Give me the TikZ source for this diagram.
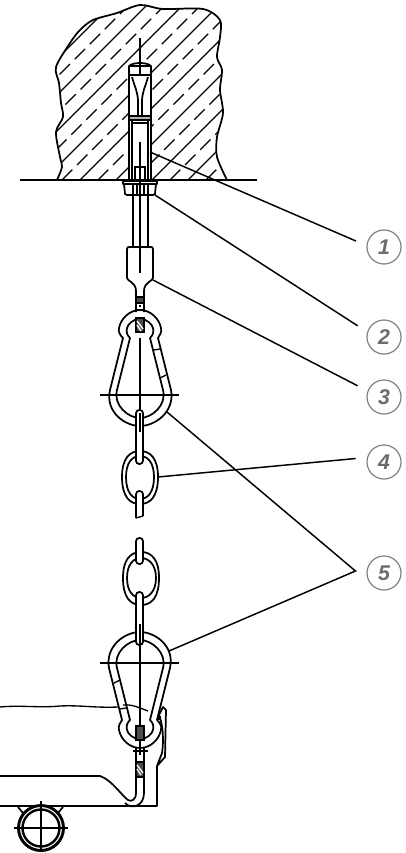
\documentclass[tikz,border=0pt]{standalone}
\usepackage{fontspec}
\setmainfont{Liberation Sans}
\definecolor{calloutgray}{gray}{0.5}
\tikzset{
  part/.style={line width=1.3pt, line join=round},
  heavy/.style={line width=2pt},
  thinpart/.style={line width=1pt},
  leader/.style={line width=1.1pt},
  hatchline/.style={line width=0.9pt},
  hatchdash/.style={line width=0.9pt, dash pattern=on 11pt off 5pt},
  linkpart/.style={line width=1.3pt, fill=white, rounded corners=2.4pt},
  block/.style={line width=1pt, fill=black!70},
  callout/.style={circle, draw=calloutgray, line width=0.9pt, minimum size=25.5pt, inner sep=0pt,
    outer sep=8.7pt, text=calloutgray!85!black, font=\fontsize{16}{16}\selectfont\bfseries\itshape}
}
\newcommand{\carabinerbody}{
\draw[part] (123,338) -- (110,390) .. controls (105,412) and (125,426) .. (140,426)
  .. controls (155,426) and (175,412) .. (171,390) -- (158,338)
  .. controls (160,335) and (162,332) .. (161,328) .. controls (159,318) and (150,310) .. (140,310)
  .. controls (130,310) and (121,318) .. (119,328) .. controls (118,332) and (120,335) .. (123,338) -- cycle;
\draw[part] (130,338) -- (117,390) .. controls (113,405) and (128,418) .. (140,418)
  .. controls (152,418) and (167,405) .. (163,390) -- (150,338)
  .. controls (153,335) and (154,332) .. (153,328) .. controls (152,324) and (147,319) .. (140,319)
  .. controls (133,319) and (128,324) .. (127,328) .. controls (126,332) and (127,335) .. (130,338) -- cycle;
\draw[thinpart] (154,350) -- (160,349) (160,378) -- (166,375);
}
\begin{document}
\begin{tikzpicture}[x=0.75pt, y=-0.75pt]
\useasboundingbox (0,0) rectangle (406,853);
% wall
\begin{scope}
\clip plot[smooth] coordinates {(57,180) (62,167) (60,157) (56,132) (63,117) (61,103) (59,83) (56,67) (70,43) (80,30) (93,20) (117,13) (140,5) (163,9) (203,9) (220,20) (220,37) (217,57) (222,70) (220,90) (223,113) (217,137) (217,157) (227,180)} -- cycle;
\foreach \k in {116,152,188,224,260,296,332,368}
  \draw[hatchline] ({\k-180},180) -- (\k,0);
\foreach \k in {98,134,170,206,242,278,314,350,386}
  \draw[hatchdash] ({\k-180},180) -- (\k,0);
\end{scope}
\draw[part] plot[smooth] coordinates {(57,180) (62,167) (60,157) (56,132) (63,117) (61,103) (59,83) (56,67) (70,43) (80,30) (93,20) (117,13) (140,5) (163,9) (203,9) (220,20) (220,37) (217,57) (222,70) (220,90) (223,113) (217,137) (217,157) (227,180)};
% anchor in the wall
\fill[white] (129,60) rectangle (151,180);
\draw[part] (129,180) -- (129,66) .. controls (133,62) and (147,62) .. (151,66) -- (151,180);
\draw[part] (129,66) -- (151,66);
\draw[heavy] (129,75) -- (151,75);
\draw[thinpart] (140,38) -- (140,76);
\draw[part] (132,77) .. controls (135,88) and (138,92) .. (138,102);
\draw[part] (148,77) .. controls (145,88) and (142,92) .. (142,102);
\draw[heavy] (138,100) -- (138,116) (142,100) -- (142,116);
\draw[part,fill=black!30] (129,116) rectangle (151,120);
\draw[part] (132,120) -- (132,180) (148,120) -- (148,180) (132,123) -- (148,123);
\draw[part] (134,167) -- (146,167) (135,167) -- (135,180) (145,167) -- (145,180);
\draw[thinpart] (140,142) -- (140,180);
\draw[part] (20,180) -- (257,180);
% nut and rod
\draw[part] (123,181) -- (157,181) -- (157,184) -- (123,184) -- cycle;
\draw[part] (124,184) -- (125,194) -- (127,195) -- (153,195) -- (155,194) -- (156,184);
\draw[thinpart] (137,184) -- (137,195) (144,184) -- (144,195);
\draw[heavy] (133,184) -- (133,247) (148,184) -- (148,247);
\draw[part] (136,312) -- (136,291) .. controls (136,282) and (127,281) .. (127,278) -- (127,249) .. controls (127,247.5) and (128,247) .. (129,247) -- (151,247) .. controls (152,247) and (153,247.5) .. (153,249) -- (153,278) .. controls (153,281) and (144,282) .. (144,291) -- (144,312);
\draw[part] (140,170) -- (140,273);
% upper carabiner
\carabinerbody
\draw[block] (136,297) rectangle (144,303);
\draw[part] (136,310) -- (144,310);
\fill (139.2,305) rectangle (140.8,307);
\draw[block] (136,318) rectangle (144,332);
\draw[white,thinpart] (137,321) -- (143,329) (137,325) -- (141,331);
\draw[thinpart] (100,395) -- (179,395);
\draw[thinpart] (140,338) -- (140,410);
% chain, upper part
\draw[part] (122,477) .. controls (122,458) and (130,451) .. (140,451) .. controls (150,451) and (158,458) .. (158,477) .. controls (158,497) and (150,504) .. (140,504) .. controls (130,504) and (122,497) .. (122,477) -- cycle;
\draw[part] (126,477) .. controls (126,463) and (132,456) .. (140,456) .. controls (148,456) and (154,463) .. (154,477) .. controls (154,492) and (148,499) .. (140,499) .. controls (132,499) and (126,492) .. (126,477) -- cycle;
\draw[linkpart] (136,464) -- (136,410) -- (143,410) -- (143,464) -- cycle;
\draw[thinpart] (140,413) -- (140,432);
\draw[linkpart] (136,518) -- (136,491) -- (143,491) -- (143,516);
\draw[thinpart] (136,518) -- (143,516);
% chain, lower part
\draw[part] (123,578) .. controls (123,560) and (130,552) .. (141,552) .. controls (152,552) and (159,560) .. (159,578) .. controls (159,597) and (152,605) .. (141,605) .. controls (130,605) and (123,597) .. (123,578) -- cycle;
\draw[part] (127,578) .. controls (127,565) and (133,558) .. (141,558) .. controls (149,558) and (156,565) .. (156,578) .. controls (156,591) and (149,598) .. (141,598) .. controls (133,598) and (127,591) .. (127,578) -- cycle;
\draw[linkpart] (136,538) -- (143,538) -- (143,564) -- (136,564) -- cycle;
% lower carabiner
\begin{scope}[shift={(280,1058)}, xscale=-1, yscale=-1]
\carabinerbody
\end{scope}
\draw[linkpart] (136,592) -- (143,592) -- (143,645) -- (136,645) -- cycle;
\draw[thinpart] (140,624) -- (140,755);
\draw[thinpart] (100,663) -- (179,663);
\draw[block] (136,726) rectangle (144,740);
\draw[thinpart] (133,751) -- (148,751);
% sheet, hook and bracket
\draw[part] (136,748) -- (136,793) .. controls (136,800) and (131,802) .. (128,800) .. controls (122,796) and (112,780) .. (100,776) -- (0,776);
\draw[part] (144,748) -- (144,793) .. controls (144,806) and (132,810) .. (125,803);
\draw[block] (136,762) rectangle (144,777);
\draw[white,thinpart] (137,765) -- (143,773) (137,769) -- (141,775);
\draw[part] (0,806) -- (157,806) -- (157,766) -- (165,757) -- (166,710) -- (163,707) -- (159,715) .. controls (163,725) and (164,740) .. (162,753) -- (157,766);
\draw[thinpart] (0,707) .. controls (20,705) and (40,708) .. (60,706) .. controls (80,705) and (95,708) .. (118,707);
\draw[thinpart] (123,705) .. controls (132,704) and (140,708) .. (148,711);
\fill (157,716) rectangle (161,720);
% pipe
\coordinate (pipe) at (41,828);
\draw[part] (18,807) -- (23,813) (63,807) -- (58,813);
\fill[white] (pipe) circle (22);
\draw[line width=2.2pt] (pipe) circle (22.5);
\draw[line width=1.8pt] (pipe) circle (18.5);
\draw[thinpart] (14,828) -- (68,828) (41,801) -- (41,852);
% callouts
\node[callout] (call1) at (384,247) {1};
\node[callout] (call2) at (384,337) {2};
\node[callout] (call3) at (384,397) {3};
\node[callout] (call4) at (384,462) {4};
\node[callout] (call5) at (384,573) {5};
\coordinate (tip1) at (150,152);
\coordinate (tip2) at (155,195);
\coordinate (tip3) at (153,280);
\coordinate (tip4) at (158,477);
\coordinate (tip5a) at (167,412);
\coordinate (tip5b) at (169,651);
\draw[leader] (tip1) -- (call1.168);
\draw[leader] (tip2) -- (call2.157);
\draw[leader] (tip3) -- (call3.157);
\draw[leader] (tip4) -- (call4.173);
\draw[leader] (tip5a) -- (call5.176) -- (tip5b);
\end{tikzpicture}
\end{document}
